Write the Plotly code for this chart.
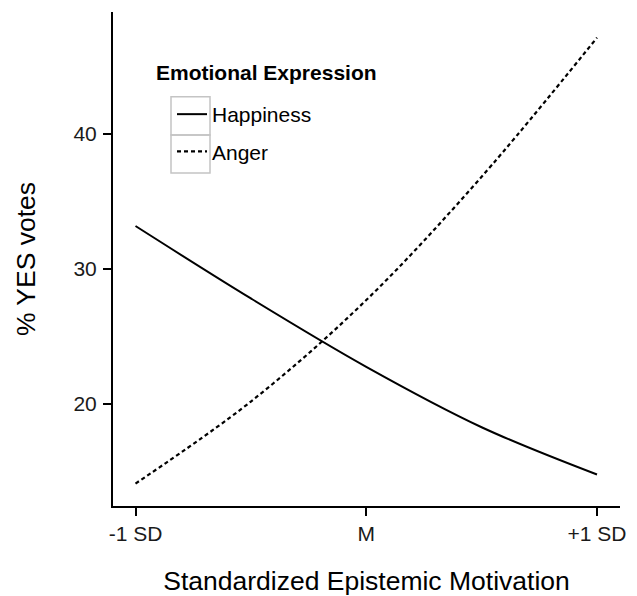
import plotly.graph_objects as go

# Data
x_levels = [-1.0, -0.5, 0.0, 0.5, 1.0]
happiness = [33.16, 27.8, 22.74, 18.27, 14.77]
anger = [14.10, 20.17, 27.68, 36.81, 47.10]
x_tickvals = [-1, 0, 1]
x_ticktext = ["-1 SD", "M", "+1 SD"]
y_tickvals = [20, 30, 40]

W, H = 637, 596
# plot area in window pixels
X0, X1, Y0, Y1 = 113, 620, 12, 506
L, T = X0, Y0
R, B = W - X1, H - Y1


def px_x(p):
    return (p - X0) / (X1 - X0)


def px_y(p):
    return 1 - (p - Y0) / (Y1 - Y0)


FONT = "Liberation Sans, Arial, Helvetica, sans-serif"

fig = go.Figure()
fig.add_trace(go.Scatter(x=x_levels, y=happiness, name="Happiness", mode="lines",
                         line=dict(color="black", width=2, shape="spline", smoothing=1.0),
                         legendgroup="h"))
fig.add_trace(go.Scatter(x=x_levels, y=anger, name="Anger", mode="lines",
                         line=dict(color="black", width=2.2, shape="spline", smoothing=1.0, dash="4px,3px"),
                         legendgroup="a"))

# legend key boxes (ggplot-style)
for (y0, y1) in [(96.7, 135), (135, 173)]:
    fig.add_shape(type="rect", xref="paper", yref="paper",
                  x0=px_x(171), x1=px_x(210), y0=px_y(y1), y1=px_y(y0),
                  line=dict(color="#c4c4c4", width=1.5), layer="above")

fig.add_annotation(text="<b>Emotional Expression</b>", xref="paper", yref="paper",
                   x=px_x(154), y=px_y(72), xanchor="left", yanchor="middle",
                   showarrow=False, font=dict(size=21, color="black", family=FONT))

fig.update_layout(
    width=W, height=H,
    margin=dict(l=L, r=R, t=T, b=B, pad=0, autoexpand=False),
    paper_bgcolor="white", plot_bgcolor="white",
    font=dict(family=FONT, color="black"),
    showlegend=True,
    legend=dict(x=px_x(172), y=px_y(94), xanchor="left", yanchor="top",
                bgcolor="rgba(0,0,0,0)", borderwidth=0,
                font=dict(size=21, color="black", family=FONT),
                traceorder="grouped", tracegroupgap=7),
    xaxis=dict(range=[-1.0975, 1.0997], tickvals=x_tickvals, ticktext=x_ticktext,
               automargin=False,
               showline=True, linecolor="black", linewidth=2, ticks="outside",
               ticklen=8, tickwidth=2, tickcolor="black", showgrid=False, zeroline=False,
               tickfont=dict(size=21, color="#1a1a1a"),
               title=dict(text="Standardized Epistemic Motivation", font=dict(size=26.5, color="black"),
                          standoff=34)),
    yaxis=dict(range=[12.44, 49.0], tickvals=y_tickvals,
               automargin=False,
               showline=True, linecolor="black", linewidth=2, ticks="outside",
               ticklen=8, tickwidth=2, tickcolor="black", showgrid=False, zeroline=False,
               ticklabelstandoff=2,
               tickfont=dict(size=21, color="#1a1a1a"),
               title=dict(text="% YES votes", font=dict(size=26.5, color="black"), standoff=30)),
)

fig.write_html("out.html",
               config={"displayModeBar": False},
               post_script="document.body.style.margin='0';document.body.style.overflow='hidden';")
